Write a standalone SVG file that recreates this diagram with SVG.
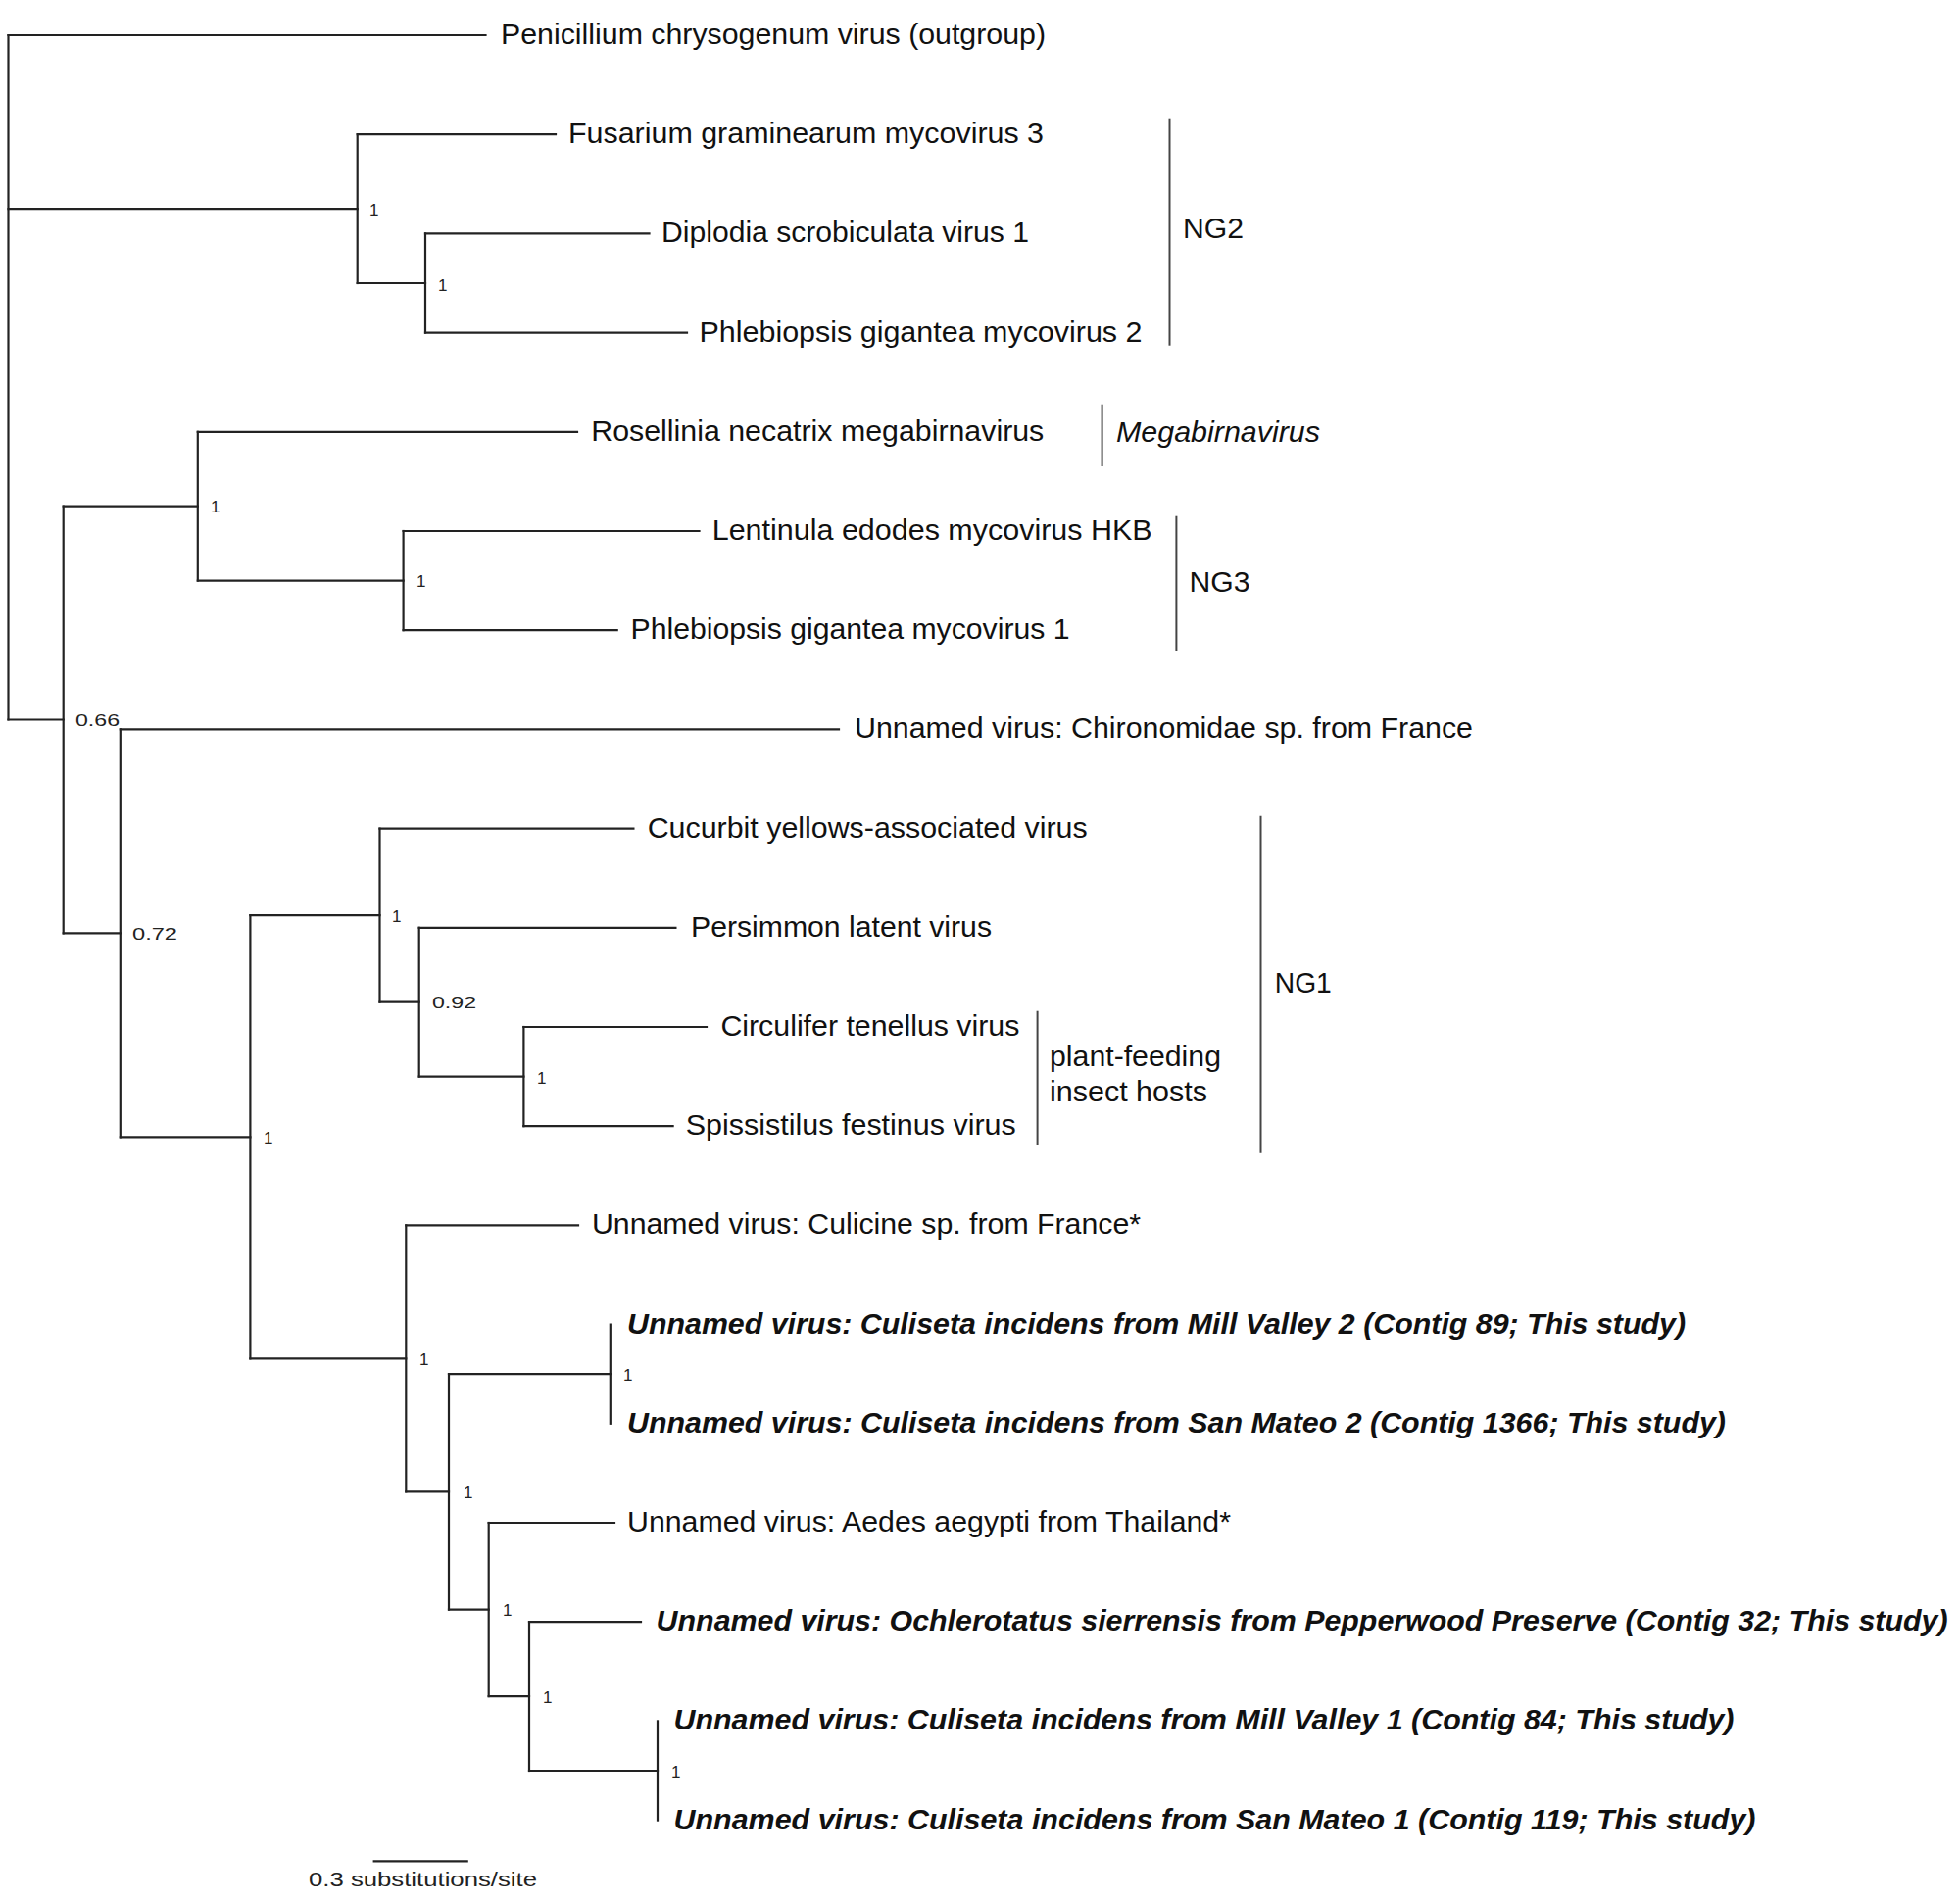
<svg xmlns="http://www.w3.org/2000/svg" width="2000" height="1939" viewBox="0 0 2000 1939">
<style>
  .br { fill: none; stroke: #222; stroke-width: 2.2; stroke-linecap: square; }
  .bar { fill: none; stroke: #444; stroke-width: 2; }
  .lab { font-family: "Liberation Sans", Arial, sans-serif; font-size: 30px; fill: #111; }
  .bi { font-family: "Liberation Sans", Arial, sans-serif; font-size: 29px; font-weight: bold; font-style: italic; fill: #111; }
  .it { font-style: italic; }
  .sup { font-family: "Liberation Sans", Arial, sans-serif; font-size: 17px; fill: #222; }
  .scale { font-family: "Liberation Sans", Arial, sans-serif; font-size: 21px; fill: #222; }
</style>
<rect width="2000" height="1939" fill="#ffffff"/>

<g id="connectors">
  <!-- root -->
  <path class="br" d="M8.5,36 V734.5"/>
  <path class="br" d="M8.5,36 H495.5"/>
  <path class="br" d="M8.5,213.1 H364.7"/>
  <path class="br" d="M8.5,734.5 H64.7"/>
  <!-- NG2 clade -->
  <path class="br" d="M364.7,137.2 V289"/>
  <path class="br" d="M364.7,137.2 H567"/>
  <path class="br" d="M364.7,289 H434"/>
  <path class="br" d="M434,238.4 V339.6"/>
  <path class="br" d="M434,238.4 H662.5"/>
  <path class="br" d="M434,339.6 H701"/>
  <!-- node A -->
  <path class="br" d="M64.7,516.7 V952.3"/>
  <path class="br" d="M64.7,516.7 H201.8"/>
  <path class="br" d="M64.7,952.3 H122.8"/>
  <!-- node B -->
  <path class="br" d="M201.8,440.8 V592.6"/>
  <path class="br" d="M201.8,440.8 H589"/>
  <path class="br" d="M201.8,592.6 H411.6"/>
  <!-- node C -->
  <path class="br" d="M411.6,542 V643.2"/>
  <path class="br" d="M411.6,542 H713.5"/>
  <path class="br" d="M411.6,643.2 H629.7"/>
  <!-- node D -->
  <path class="br" d="M122.8,744.4 V1160.3"/>
  <path class="br" d="M122.8,744.4 H856"/>
  <path class="br" d="M122.8,1160.3 H255.4"/>
  <!-- node E -->
  <path class="br" d="M255.4,934.2 V1386.4"/>
  <path class="br" d="M255.4,934.2 H387.5"/>
  <path class="br" d="M255.4,1386.4 H414.3"/>
  <!-- node F -->
  <path class="br" d="M387.5,845.6 V1022.7"/>
  <path class="br" d="M387.5,845.6 H646.4"/>
  <path class="br" d="M387.5,1022.7 H427.7"/>
  <!-- node H -->
  <path class="br" d="M427.7,946.8 V1098.6"/>
  <path class="br" d="M427.7,946.8 H689.4"/>
  <path class="br" d="M427.7,1098.6 H534.4"/>
  <!-- node I -->
  <path class="br" d="M534.4,1048 V1149.2"/>
  <path class="br" d="M534.4,1048 H721"/>
  <path class="br" d="M534.4,1149.2 H686.6"/>
  <!-- node G -->
  <path class="br" d="M414.3,1250.4 V1522.4"/>
  <path class="br" d="M414.3,1250.4 H590"/>
  <path class="br" d="M414.3,1522.4 H458"/>
  <!-- node J -->
  <path class="br" d="M458,1402.2 V1642.6"/>
  <path class="br" d="M458,1402.2 H622.8"/>
  <path class="br" d="M458,1642.6 H498.7"/>
  <!-- node K -->
  <path class="br" d="M622.8,1351.6 V1452.8"/>
  <!-- node L -->
  <path class="br" d="M498.7,1554 V1731.1"/>
  <path class="br" d="M498.7,1554 H627"/>
  <path class="br" d="M498.7,1731.1 H540"/>
  <!-- node M -->
  <path class="br" d="M540,1655.2 V1807"/>
  <path class="br" d="M540,1655.2 H654"/>
  <path class="br" d="M540,1807 H671"/>
  <!-- node N -->
  <path class="br" d="M671,1756.4 V1857.6"/>
  <!-- scale bar -->
  <path class="br" d="M381.7,1899.3 H476.7"/>
</g>

<g id="support">
  <text class="sup" x="377" y="220">1</text>
  <text class="sup" x="447" y="297">1</text>
  <text class="sup" x="215" y="523">1</text>
  <text class="sup" x="425" y="599">1</text>
  <text class="sup" x="77" y="741" textLength="45" lengthAdjust="spacingAndGlyphs">0.66</text>
  <text class="sup" x="135" y="959" textLength="46" lengthAdjust="spacingAndGlyphs">0.72</text>
  <text class="sup" x="400" y="941">1</text>
  <text class="sup" x="441" y="1029" textLength="45" lengthAdjust="spacingAndGlyphs">0.92</text>
  <text class="sup" x="548" y="1106">1</text>
  <text class="sup" x="269" y="1167">1</text>
  <text class="sup" x="428" y="1393">1</text>
  <text class="sup" x="636" y="1409">1</text>
  <text class="sup" x="473" y="1529">1</text>
  <text class="sup" x="513" y="1649">1</text>
  <text class="sup" x="554" y="1738">1</text>
  <text class="sup" x="685" y="1814">1</text>
</g>

<g id="leaf-penicillium"><text class="lab" x="511" y="45" textLength="556" lengthAdjust="spacingAndGlyphs">Penicillium chrysogenum virus (outgroup)</text></g>
<g id="leaf-fusarium"><text class="lab" x="580" y="146" textLength="485" lengthAdjust="spacingAndGlyphs">Fusarium graminearum mycovirus 3</text></g>
<g id="leaf-diplodia"><text class="lab" x="675" y="247" textLength="375" lengthAdjust="spacingAndGlyphs">Diplodia scrobiculata virus 1</text></g>
<g id="leaf-phlebiopsis2"><text class="lab" x="713.5" y="348.5" textLength="452" lengthAdjust="spacingAndGlyphs">Phlebiopsis gigantea mycovirus 2</text></g>
<g id="leaf-rosellinia"><text class="lab" x="603.3" y="450" textLength="462" lengthAdjust="spacingAndGlyphs">Rosellinia necatrix megabirnavirus</text></g>
<g id="leaf-lentinula"><text class="lab" x="726.7" y="551" textLength="449" lengthAdjust="spacingAndGlyphs">Lentinula edodes mycovirus HKB</text></g>
<g id="leaf-phlebiopsis1"><text class="lab" x="643.5" y="652" textLength="448" lengthAdjust="spacingAndGlyphs">Phlebiopsis gigantea mycovirus 1</text></g>
<g id="leaf-chironomidae"><text class="lab" x="872" y="753.4" textLength="631" lengthAdjust="spacingAndGlyphs">Unnamed virus: Chironomidae sp. from France</text></g>
<g id="leaf-cucurbit"><text class="lab" x="660.7" y="854.6" textLength="449" lengthAdjust="spacingAndGlyphs">Cucurbit yellows-associated virus</text></g>
<g id="leaf-persimmon"><text class="lab" x="705" y="955.8" textLength="307" lengthAdjust="spacingAndGlyphs">Persimmon latent virus</text></g>
<g id="leaf-circulifer"><text class="lab" x="735.4" y="1057" textLength="305" lengthAdjust="spacingAndGlyphs">Circulifer tenellus virus</text></g>
<g id="leaf-spissistilus"><text class="lab" x="699.8" y="1158.2" textLength="337" lengthAdjust="spacingAndGlyphs">Spissistilus festinus virus</text></g>
<g id="leaf-culicine"><text class="lab" x="604" y="1259.4" textLength="560" lengthAdjust="spacingAndGlyphs">Unnamed virus: Culicine sp. from France*</text></g>
<g id="leaf-millvalley2"><text class="bi" x="640" y="1360.6" textLength="1080" lengthAdjust="spacingAndGlyphs">Unnamed virus: Culiseta incidens from Mill Valley 2 (Contig 89; This study)</text></g>
<g id="leaf-sanmateo2"><text class="bi" x="640" y="1461.8" textLength="1121" lengthAdjust="spacingAndGlyphs">Unnamed virus: Culiseta incidens from San Mateo 2 (Contig 1366; This study)</text></g>
<g id="leaf-aedes"><text class="lab" x="640" y="1563" textLength="616" lengthAdjust="spacingAndGlyphs">Unnamed virus: Aedes aegypti from Thailand*</text></g>
<g id="leaf-ochlerotatus"><text class="bi" x="669.6" y="1664.2" textLength="1318" lengthAdjust="spacingAndGlyphs">Unnamed virus: Ochlerotatus sierrensis from Pepperwood Preserve (Contig 32; This study)</text></g>
<g id="leaf-millvalley1"><text class="bi" x="687.5" y="1765.4" textLength="1082" lengthAdjust="spacingAndGlyphs">Unnamed virus: Culiseta incidens from Mill Valley 1 (Contig 84; This study)</text></g>
<g id="leaf-sanmateo1"><text class="bi" x="687.5" y="1866.6" textLength="1104" lengthAdjust="spacingAndGlyphs">Unnamed virus: Culiseta incidens from San Mateo 1 (Contig 119; This study)</text></g>

<g id="group-NG2">
  <path class="bar" d="M1193.5,120.7 V352.7"/>
  <text class="lab" x="1207" y="243" textLength="62" lengthAdjust="spacingAndGlyphs">NG2</text>
</g>
<g id="group-megabirnavirus">
  <path class="bar" d="M1124.6,412.7 V476"/>
  <text class="lab it" x="1139" y="451" textLength="208" lengthAdjust="spacingAndGlyphs">Megabirnavirus</text>
</g>
<g id="group-NG3">
  <path class="bar" d="M1200.4,526.7 V664"/>
  <text class="lab" x="1213.6" y="603.5" textLength="62" lengthAdjust="spacingAndGlyphs">NG3</text>
</g>
<g id="group-plant-feeding">
  <path class="bar" d="M1058.6,1031.7 V1168.3"/>
  <text class="lab" x="1071" y="1088" textLength="175" lengthAdjust="spacingAndGlyphs">plant-feeding</text>
  <text class="lab" x="1071" y="1124" textLength="161" lengthAdjust="spacingAndGlyphs">insect hosts</text>
</g>
<g id="group-NG1">
  <path class="bar" d="M1286.5,832.7 V1176.7"/>
  <text class="lab" x="1300.8" y="1013" textLength="58" lengthAdjust="spacingAndGlyphs">NG1</text>
</g>

<g id="scale-bar">
  <text class="scale" x="315" y="1925" textLength="233" lengthAdjust="spacingAndGlyphs">0.3 substitutions/site</text>
</g>
</svg>
